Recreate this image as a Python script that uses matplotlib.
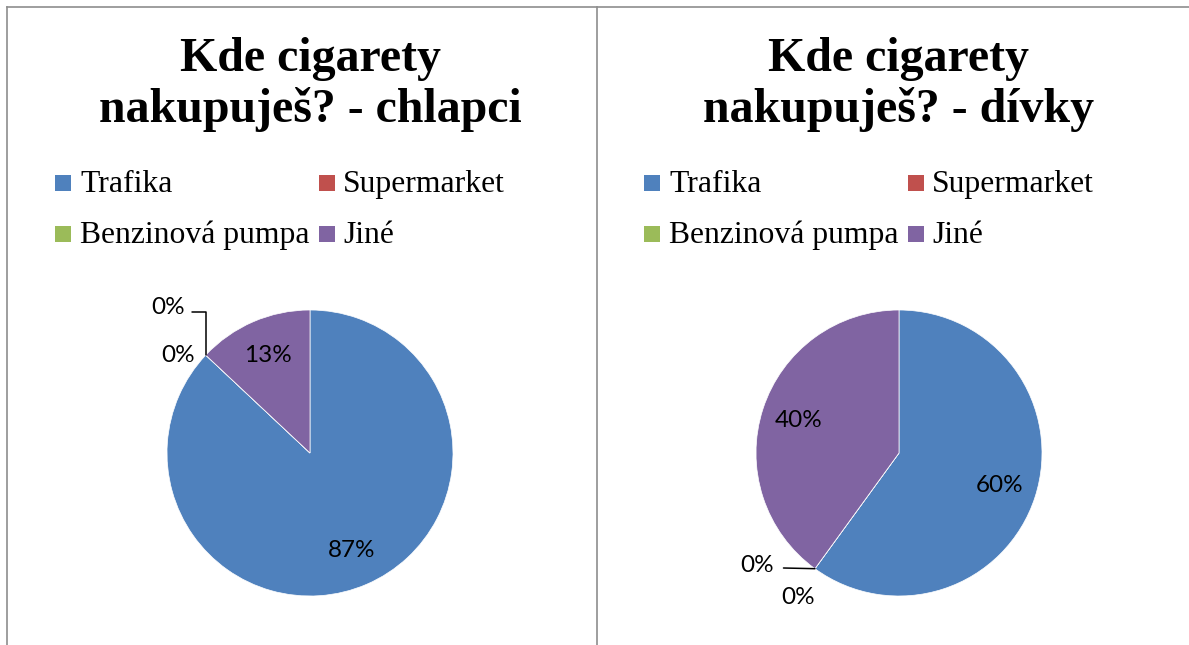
import matplotlib.pyplot as plt
import numpy as np
from matplotlib.patches import Rectangle
from matplotlib.lines import Line2D

categories = ['Trafika', 'Supermarket', 'Benzinová pumpa', 'Jiné']
colors = ['#4F81BD', '#C0504D', '#9BBB59', '#8064A2']

boys_values = [87, 0, 0, 13]
girls_values = [60, 0, 0, 40]

boys_title = 'Kde cigarety\nnakupuješ? - chlapci'
girls_title = 'Kde cigarety\nnakupuješ? - dívky'

W, H = 1189, 645
fig = plt.figure(figsize=(W / 100, H / 100), dpi=100)


def px(x, y):
    # pixel position (from top-left) -> figure fraction
    return x / W, 1 - y / H


def draw_panel(cx, title, values, zero_labels):
    r, cy = 143, 453

    # title, two centred lines
    for i, line in enumerate(title.split('\n')):
        fig.text(*px(cx, 71 + i * 51), line, ha='center', va='baseline',
                 fontsize=34.5, fontweight='bold', family='Liberation Serif')

    # legend, 2 columns
    for i, lab in enumerate(categories):
        row, col = divmod(i, 2)
        base = 192 + row * 51
        mx = cx - 255 + col * 264
        fig.add_artist(Rectangle(px(mx, base - 1), 16 / W, 16 / H,
                                 transform=fig.transFigure,
                                 facecolor=colors[i], edgecolor='none'))
        fig.text(*px(cx - 230 + col * 263, base), lab, ha='left', va='baseline',
                 fontsize=22.8, family='Liberation Serif')

    ax = fig.add_axes([(cx - r) / W, 1 - (cy + r) / H, 2 * r / W, 2 * r / H])
    ax.pie(values, colors=colors, startangle=90, counterclock=False,
           autopct=lambda p: f'{p:.0f}%' if p > 0 else '', pctdistance=0.74,
           wedgeprops=dict(edgecolor='white', linewidth=0.5),
           textprops=dict(family='Lato', fontsize=17.5))
    ax.set_xlim(-1, 1)
    ax.set_ylim(-1, 1)
    ax.set_aspect('equal')
    ax.axis('off')

    # 0% labels sit on the slice boundary
    total = sum(values)
    zeros = [i for i, v in enumerate(values) if v == 0]
    for i, (dx, dy, leader) in zip(zeros, zero_labels):
        theta = np.deg2rad(90 - 360 * sum(values[:i]) / total)
        xy = (np.cos(theta), np.sin(theta))
        arrow = None
        if leader == 'elbow':
            arrow = dict(arrowstyle='-', color='black', lw=1.1, relpos=(1, 0.25),
                         shrinkA=3, shrinkB=0,
                         connectionstyle='angle,angleA=0,angleB=90,rad=0')
        elif leader == 'straight':
            arrow = dict(arrowstyle='-', color='black', lw=1.1, relpos=(1, 0.4),
                         shrinkA=5, shrinkB=0)
        ax.annotate('0%', xy=xy, xytext=(dx, dy), textcoords='offset pixels',
                    ha='center', va='center', family='Lato', fontsize=17.5,
                    arrowprops=arrow, annotation_clip=False)


draw_panel(310, boys_title, boys_values, [(-28, 0, None), (-38, 48, 'elbow')])
draw_panel(899, girls_title, girls_values, [(-58, 3, 'straight'), (-17, -29, None)])

# chart frames
frame = dict(color='#8e8e8e', lw=1.2, transform=fig.transFigure)
fig.add_artist(Line2D(*zip(px(7, 7), px(W, 7)), **frame))
fig.add_artist(Line2D(*zip(px(7, 7), px(7, H)), **frame))
fig.add_artist(Line2D(*zip(px(597, 7), px(597, H)), **frame))

fig.savefig('out.png', dpi=100)
